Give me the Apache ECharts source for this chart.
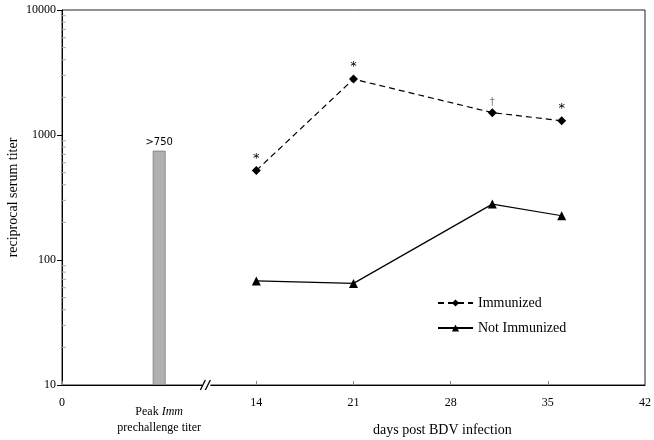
<!DOCTYPE html>
<html>
<head>
<meta charset="utf-8">
<script src="https://cdn.jsdelivr.net/npm/echarts@6/dist/echarts.min.js"></script>
<style>html,body{margin:0;padding:0;background:#fff}#c{width:654px;height:440px}</style>
</head>
<body>
<div id="c"></div>
<script>
// ---- data ----
const xTickLabels = ['0', '', '14', '21', '28', '35', '42'];
const peakLabelLine1 = 'Peak ';
const peakLabelItalic = 'Imm';
const peakLabelLine2 = 'prechallenge titer';
const barX = [7];
const barValues = [750];
const barLabels = ['>750'];
const daysImm = [14, 21, 31, 36];
const immunized = [520, 2800, 1510, 1300];
const immMarks = ['*', '*', '\u2020', '*'];
const daysNot = [14, 21, 31, 36];
const notImmunized = [68, 65, 280, 226];
const yMinorTicks = [20,30,40,50,60,70,80,90,200,300,400,500,600,700,800,900,2000,3000,4000,5000,6000,7000,8000,9000];
const axisBreakAt = 10.4;
const seriesNames = ['Immunized', 'Not Immunized'];

const serif = '"Liberation Serif","DejaVu Serif",serif';
const chart = echarts.init(document.getElementById('c'), null, {renderer: 'canvas'});

const option = {
  animation: false,
  backgroundColor: '#fff',
  grid: {left: 62, right: 9, top: 10, bottom: 55, containLabel: false, outerBoundsMode: 'none',
    show: true, borderColor: '#222', borderWidth: 1},
  legend: {
    left: 437, top: 296, padding: 0, orient: 'vertical', itemWidth: 35, itemHeight: 9, itemGap: 11,
    textStyle: {fontFamily: serif, fontSize: 14, color: '#000'},
    data: seriesNames
  },
  xAxis: {
    type: 'value', min: 0, max: 42, interval: 7,
    axisLine: {lineStyle: {color: '#000', width: 1}},
    axisTick: {inside: true, length: 4, lineStyle: {color: '#888'}},
    splitLine: {show: false},
    axisLabel: {
      margin: 12, fontFamily: serif, fontSize: 12, color: '#000',
      formatter: function (v) {
        const i = Math.round(v / 7);
        if (i === 1) return '{g|}\n{p|' + peakLabelLine1 + '}{i|' + peakLabelItalic + '}\n{p|' + peakLabelLine2 + '}';
        return xTickLabels[i] || '';
      },
      rich: {
        g: {fontSize: 1, lineHeight: 7},
        p: {fontFamily: serif, fontSize: 12, lineHeight: 16, color: '#000'},
        i: {fontFamily: serif, fontSize: 12, lineHeight: 16, fontStyle: 'italic', color: '#000'}
      }
    }
  },
  yAxis: {
    type: 'log', logBase: 10, min: 10, max: 10000, startValue: 10,
    name: 'reciprocal serum titer', nameLocation: 'middle', nameGap: 42, nameMoveOverlap: false,
    nameTextStyle: {fontFamily: serif, fontSize: 14, color: '#000'},
    axisLine: {lineStyle: {color: '#000', width: 1}},
    axisTick: {length: 5, lineStyle: {color: '#000'}},
    splitLine: {show: false},
    axisLabel: {fontFamily: serif, fontSize: 12, color: '#000', margin: 6, formatter: v => String(Math.round(v))}
  },
  series: [
    {
      type: 'custom', silent: true, z: 1,
      data: yMinorTicks.map(v => [0, v]),
      renderItem: function (params, api) {
        const p = api.coord([api.value(0), api.value(1)]);
        return {type: 'line', shape: {x1: p[0], y1: p[1], x2: p[0] + 4, y2: p[1]}, style: {stroke: '#aaa', lineWidth: 1}};
      }
    },
    {
      type: 'bar', barWidth: 13, clip: true,
      data: barX.map((x, i) => [x, barValues[i]]),
      itemStyle: {color: '#b0b0b0', borderColor: '#8a8a8a', borderWidth: 1},
      label: {show: true, position: 'top', distance: 3, fontFamily: '"DejaVu Sans",sans-serif', fontSize: 10, color: '#000',
        formatter: p => barLabels[p.dataIndex]}
    },
    {
      name: seriesNames[0], type: 'line', symbol: 'diamond', symbolSize: 9,
      lineStyle: {color: '#000', width: 1.2, type: [6, 4]},
      itemStyle: {color: '#000'},
      data: daysImm.map((x, i) => ({
        value: [x, immunized[i]],
        label: {show: true, position: 'top', distance: 1, formatter: immMarks[i],
          fontFamily: '"DejaVu Sans",sans-serif', fontSize: immMarks[i] === '*' ? 13 : 10,
          color: immMarks[i] === '*' ? '#000' : '#777'}
      }))
    },
    {
      name: seriesNames[1], type: 'line', symbol: 'triangle', symbolSize: 9,
      lineStyle: {color: '#000', width: 1.2},
      itemStyle: {color: '#000'},
      data: daysNot.map((x, i) => [x, notImmunized[i]])
    }
  ]
};
chart.setOption(option);

// axis break marker "//" placed via the library's own scale
const bp = chart.convertToPixel({gridIndex: 0}, [axisBreakAt, 10]);
chart.setOption({
  graphic: [
    {type: 'rect', shape: {x: bp[0] - 4, y: bp[1] - 2, width: 8, height: 4}, style: {fill: '#fff'}, z: 100},
    {type: 'line', shape: {x1: bp[0] - 6, y1: bp[1] + 5, x2: bp[0] - 1, y2: bp[1] - 5}, style: {stroke: '#000', lineWidth: 1.3}, z: 101},
    {type: 'line', shape: {x1: bp[0] - 1, y1: bp[1] + 5, x2: bp[0] + 4, y2: bp[1] - 5}, style: {stroke: '#000', lineWidth: 1.3}, z: 101},
    {type: 'text', left: 373, top: 423, style: {text: 'days post BDV infection', font: '14px ' + serif, fill: '#000'}, z: 100}
  ]
});
</script>
</body>
</html>
